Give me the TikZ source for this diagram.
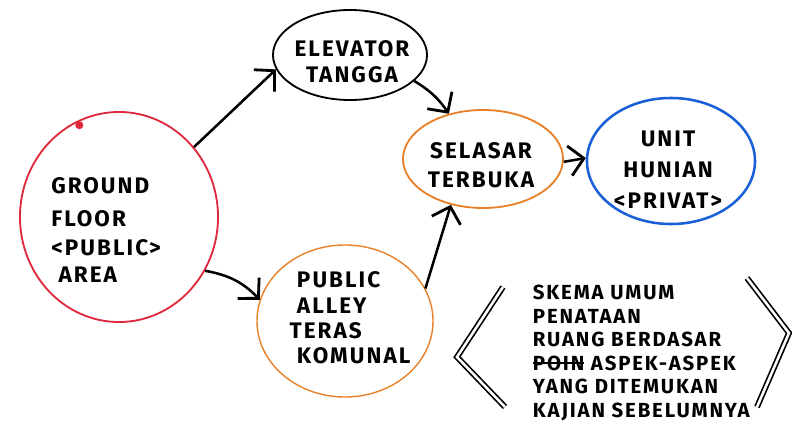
\documentclass[tikz,border=0pt]{standalone}
\usepackage{fontspec}
\setmainfont{Fira Sans}[LetterSpace=9]
\usepackage{tikz}
\usetikzlibrary{arrows.meta,shapes.geometric}
\definecolor{zonered}{RGB}{222,40,60}
\definecolor{zoneorange}{RGB}{232,128,40}
\definecolor{zoneblue}{RGB}{25,95,215}
\newcommand\crossword[1]{\setbox0\hbox{#1}\rlap{\rule[0.32em]{\wd0}{1.2pt}}\box0\relax}

\begin{document}
\begin{tikzpicture}[x=0.025cm,y=-0.025cm,
  zone/.style={ellipse,draw,line width=1.3pt,inner sep=0pt},
  link/.style={line width=1.8pt,-{Straight Barb[length=3.6mm,width=7.5mm,line width=2pt]}},
  lbl/.style={font=\fontsize{16}{23}\selectfont\bfseries,align=center},
  bracket/.style={double,double distance=1.8pt,line width=1.2pt,line join=miter}]
  \useasboundingbox (0,0) rectangle (792,429);
  % the five zones
  \node[zone,zonered,minimum width=4.95cm,minimum height=5.25cm] (ground) at (119,217) {};
  \node[zone,minimum width=3.85cm,minimum height=2.25cm] (lift) at (350,55) {};
  \node[zone,zoneorange,minimum width=4.0cm,minimum height=2.45cm] (selasar) at (483,159) {};
  \node[zone,zoneblue,line width=1.8pt,minimum width=4.2cm,minimum height=3.15cm] (unit) at (671,161) {};
  \node[zone,zoneorange,line width=1pt,minimum width=4.4cm,minimum height=3.8cm] (alley) at (345,321) {};
  \fill[zonered] (ground.114) ++(3,4) circle (4);
  % labels
  \node[lbl,align=left] (groundtxt) at (106,230) {GROUND\\FLOOR\\[-2pt]\char`<PUBLIC\char`>\\[-4pt]\ AREA};
  \node[lbl,font=\fontsize{16}{18.5}\selectfont\bfseries] (lifttxt) at (352,62) {ELEVATOR\\TANGGA};
  \node[lbl,font=\fontsize{16}{21}\selectfont\bfseries] (selasartxt) at (481,165) {SELASAR\\TERBUKA};
  \node[lbl,font=\fontsize{16}{22}\selectfont\bfseries] (unittxt) at (668,170) {UNIT\\HUNIAN\\\char`<PRIVAT\char`>};
  \node[lbl,align=left,font=\fontsize{16}{18}\selectfont\bfseries] (alleytxt) at (350,318) {\ PUBLIC\\\ ALLEY\\TERAS\\\ KOMUNAL};
  % flow between zones
  \draw[link] (ground.43) -- (lift.191);
  \draw[link] (lift.-22) to[bend left=12] (selasar.127);
  \draw[link] (ground.-32) to[bend left=18] (alley.166);
  \draw[link] (alley.22) -- (selasar.-125);
  \draw[link] (selasar.-2) -- (unit.178);
  % note in brackets
  \draw[bracket] (503,287) -- (457,357) -- (505,407);
  \draw[bracket] (747,278) -- (789,333) -- (757,407);
  \node[lbl,align=left,font=\fontsize{14.5}{16.8}\selectfont\bfseries,anchor=west] (note) at (528,353)
    {SKEMA UMUM\\PENATAAN\\RUANG BERDASAR\\\crossword{POIN} ASPEK-ASPEK\\YANG DITEMUKAN\\KAJIAN SEBELUMNYA};
\end{tikzpicture}
\end{document}
